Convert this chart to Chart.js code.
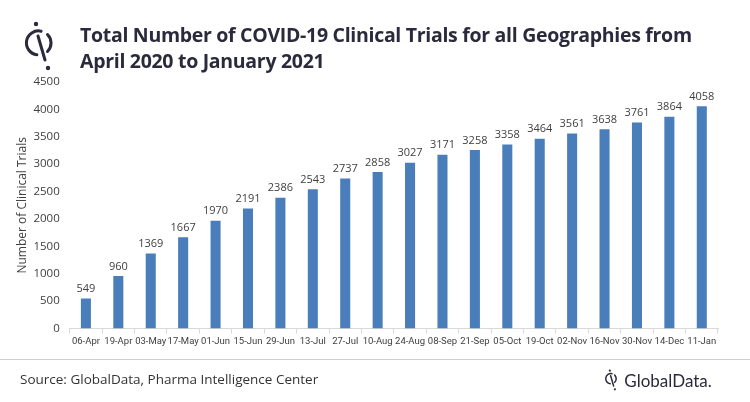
<!DOCTYPE html>
<html><head><meta charset="utf-8">
<script src="https://cdn.jsdelivr.net/npm/chart.js@4"></script>
<style>
html,body{margin:0;padding:0;background:#fff;width:750px;height:402px;overflow:hidden;font-family:"Open Sans",sans-serif;}
#wrap{position:absolute;left:0;top:0;width:750px;height:402px;}
#title{position:absolute;left:80px;top:22px;font-family:"Open Sans",sans-serif;font-weight:700;font-size:19.5px;line-height:26px;color:#2a2a3c;letter-spacing:-0.3px;}
#logo{position:absolute;left:20px;top:18px;}
#sep{position:absolute;left:0;top:359px;width:750px;height:1px;background:#c8d0d8;}
#src{position:absolute;left:20px;top:370px;font-size:13.5px;color:#333;}
#gd{position:absolute;left:603px;top:368px;font-size:17px;color:#2a2a3c;font-family:"Lato",sans-serif;}
</style></head>
<body>
<div id="wrap"><canvas id="c" width="750" height="402"></canvas></div>
<svg id="logo" width="40" height="56" viewBox="0 0 40 56">
 <g fill="none" stroke="#2a2a3c" stroke-width="3" stroke-linecap="round">
  <path d="M21.1 13.2 A12 12 0 1 0 16.9 36.8"/>
  <path d="M27.5 16.5 A12 12 0 0 1 27.5 33.5"/>
  <line x1="18" y1="18" x2="25" y2="42"/>
 </g>
 <circle cx="16" cy="6" r="2.2" fill="#2a2a3c"/>
 <circle cx="28" cy="50" r="2.2" fill="#2a2a3c"/>
</svg>
<div id="title">Total Number of COVID-19 Clinical Trials for all Geographies from<br>April 2020 to January 2021</div>
<div id="sep"></div>
<div id="src">Source: GlobalData, Pharma Intelligence Center</div>
<div id="gd"><svg width="17" height="24" viewBox="0 0 40 56" style="vertical-align:-5px"><g fill="none" stroke="#2a2a3c" stroke-width="3.5" stroke-linecap="round"><path d="M21.1 13.2 A12 12 0 1 0 16.9 36.8"/><path d="M27.5 16.5 A12 12 0 0 1 27.5 33.5"/><line x1="18" y1="18" x2="25" y2="42"/></g><circle cx="16" cy="6" r="2.5" fill="#2a2a3c"/><circle cx="28" cy="50" r="2.5" fill="#2a2a3c"/></svg> GlobalData.</div>
<script>
const categories = ["06-Apr","19-Apr","03-May","17-May","01-Jun","15-Jun","29-Jun","13-Jul","27-Jul","10-Aug","24-Aug","08-Sep","21-Sep","05-Oct","19-Oct","02-Nov","16-Nov","30-Nov","14-Dec","11-Jan"];
const trials = [549,960,1369,1667,1970,2191,2386,2543,2737,2858,3027,3171,3258,3358,3464,3561,3638,3761,3864,4058];
const yTicks = [0,500,1000,1500,2000,2500,3000,3500,4000,4500];

const labelPlugin = {
  id:'barLabels',
  afterDatasetsDraw(chart){
    const ctx = chart.ctx;
    const meta = chart.getDatasetMeta(0);
    ctx.save();
    ctx.font = '11px "Open Sans", sans-serif';
    ctx.fillStyle = '#404040';
    ctx.textAlign = 'center';
    ctx.textBaseline = 'bottom';
    meta.data.forEach((bar,i)=>{
      ctx.fillText(String(trials[i]), bar.x, bar.y - 4);
    });
    ctx.restore();
  }
};

new Chart(document.getElementById('c'), {
  type:'bar',
  data:{labels:categories, datasets:[{data:trials, backgroundColor:'#4a7ebb', barPercentage:0.62, categoryPercentage:0.5}]},
  options:{
    responsive:false, animation:false, maintainAspectRatio:false,
    layout:{padding:{left:11,right:32,top:82,bottom:53}},
    plugins:{legend:{display:false},tooltip:{enabled:false}},
    scales:{
      x:{
        grid:{display:true,drawOnChartArea:false,drawTicks:true,tickLength:5,color:'#d9d9d9',offset:true},
        border:{display:true,color:'#d9d9d9'},
        ticks:{color:'#404040',font:{size:9.5,family:'Roboto, sans-serif'},maxRotation:0,autoSkip:false,padding:2}
      },
      y:{
        min:0,max:4500,
        afterBuildTicks(s){ s.ticks = yTicks.map(v=>({value:v})); },
        grid:{display:false},
        border:{display:false},
        ticks:{color:'#404040',font:{size:11.5,family:'"Open Sans", sans-serif'},padding:2,callback:v=>String(v)},
        title:{display:true,text:'Number of Clinical Trials',color:'#404040',font:{size:12,family:'"Open Sans", sans-serif'},padding:{bottom:2}}
      }
    }
  },
  plugins:[labelPlugin]
});
</script>
</body></html>
